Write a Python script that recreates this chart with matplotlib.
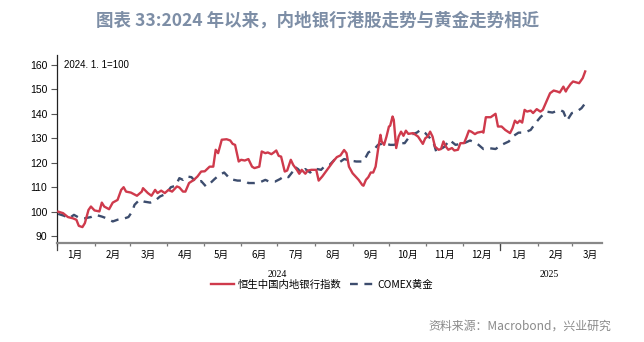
import matplotlib
matplotlib.use("Agg")
import matplotlib.pyplot as plt
import matplotlib.dates as mdates
import matplotlib.transforms as mtransforms
import pandas as pd

plt.rcParams['font.family'] = ['Noto Sans CJK SC', 'DejaVu Sans']

bank_dates = [
    "2024-01-02", "2024-01-06", "2024-01-10", "2024-01-14", "2024-01-17", "2024-01-19", "2024-01-22", "2024-01-24",
    "2024-01-27", "2024-01-29", "2024-02-01", "2024-02-05", "2024-02-07", "2024-02-09", "2024-02-13", "2024-02-16",
    "2024-02-20", "2024-02-23", "2024-02-25", "2024-02-27", "2024-03-02", "2024-03-07", "2024-03-11", "2024-03-12",
    "2024-03-16", "2024-03-19", "2024-03-22", "2024-03-24", "2024-03-27", "2024-03-30", "2024-04-02", "2024-04-05",
    "2024-04-09", "2024-04-11", "2024-04-14", "2024-04-16", "2024-04-19", "2024-04-23", "2024-04-26", "2024-04-29",
    "2024-05-02", "2024-05-06", "2024-05-09", "2024-05-11", "2024-05-13", "2024-05-16", "2024-05-20", "2024-05-23",
    "2024-05-25", "2024-05-27", "2024-05-30", "2024-06-01", "2024-06-04", "2024-06-07", "2024-06-10", "2024-06-12",
    "2024-06-16", "2024-06-18", "2024-06-21", "2024-06-23", "2024-06-26", "2024-06-28", "2024-06-30", "2024-07-02",
    "2024-07-04", "2024-07-07", "2024-07-09", "2024-07-12", "2024-07-14", "2024-07-17", "2024-07-19", "2024-07-21",
    "2024-07-24", "2024-07-26", "2024-07-29", "2024-08-02", "2024-08-04", "2024-08-07", "2024-08-11", "2024-08-13",
    "2024-08-16", "2024-08-19", "2024-08-22", "2024-08-25", "2024-08-27", "2024-08-29", "2024-09-01", "2024-09-04",
    "2024-09-06", "2024-09-09", "2024-09-10", "2024-09-12", "2024-09-14", "2024-09-16", "2024-09-18", "2024-09-20",
    "2024-09-22", "2024-09-24", "2024-09-25", "2024-09-27", "2024-09-29", "2024-10-01", "2024-10-02", "2024-10-04",
    "2024-10-05", "2024-10-07", "2024-10-09", "2024-10-11", "2024-10-13", "2024-10-15", "2024-10-17", "2024-10-21",
    "2024-10-25", "2024-10-29", "2024-10-31", "2024-11-02", "2024-11-04", "2024-11-06", "2024-11-08", "2024-11-11",
    "2024-11-13", "2024-11-15", "2024-11-17", "2024-11-19", "2024-11-22", "2024-11-24", "2024-11-27", "2024-11-29",
    "2024-12-02", "2024-12-04", "2024-12-06", "2024-12-08", "2024-12-11", "2024-12-13", "2024-12-17", "2024-12-18",
    "2024-12-20", "2024-12-24", "2024-12-28", "2024-12-30", "2025-01-02", "2025-01-05", "2025-01-09", "2025-01-11",
    "2025-01-13", "2025-01-15", "2025-01-17", "2025-01-19", "2025-01-21", "2025-01-23", "2025-01-26", "2025-01-28",
    "2025-01-31", "2025-02-03", "2025-02-05", "2025-02-08", "2025-02-11", "2025-02-14", "2025-02-17", "2025-02-19",
    "2025-02-22", "2025-02-24", "2025-02-25", "2025-02-28", "2025-03-02", "2025-03-05", "2025-03-07", "2025-03-10",
    "2025-03-12",
]
bank_values = [
    100.0, 99.4, 97.8, 97.3, 96.7, 94.2, 93.7, 95.3,
    100.7, 102.1, 100.5, 100.1, 103.7, 102.1, 101.0, 103.7,
    104.8, 108.9, 110.0, 108.2, 107.8, 106.5, 108.2, 109.6,
    107.6, 106.5, 108.9, 107.6, 108.6, 107.6, 108.9, 108.2,
    110.3, 109.9, 108.2, 108.2, 111.7, 113.0, 114.4, 116.4,
    116.5, 118.4, 118.4, 125.3, 123.9, 129.4, 129.6, 129.1,
    127.7, 127.3, 120.5, 121.2, 120.9, 121.5, 118.4, 117.8,
    118.4, 124.6, 123.9, 124.2, 123.5, 124.2, 125.0, 122.8,
    122.5, 116.4, 116.8, 121.2, 119.1, 117.1, 115.5, 117.1,
    115.5, 116.8, 117.1, 117.1, 112.7, 114.4, 117.1, 118.4,
    120.5, 122.3, 123.0, 125.2, 123.9, 118.4, 115.7, 114.1,
    113.0, 110.9, 110.6, 113.0, 114.1, 116.0, 116.0, 118.4,
    125.3, 131.4, 128.7, 127.3, 130.7, 134.8, 135.1, 138.9,
    137.5, 126.0, 130.7, 132.7, 131.0, 133.1, 131.8, 132.1,
    130.7, 127.7, 130.0, 130.7, 132.7, 130.7, 126.6, 125.3,
    125.6, 128.7, 126.6, 125.3, 126.0, 125.0, 125.3, 128.0,
    128.0, 130.4, 133.1, 132.7, 131.7, 132.3, 132.7, 132.3,
    138.6, 138.6, 140.0, 134.8, 134.8, 133.4, 132.1, 134.1,
    137.2, 136.2, 137.2, 136.4, 141.6, 140.9, 141.3, 140.3,
    141.9, 140.9, 141.6, 145.0, 148.4, 149.5, 149.1, 148.7,
    151.1, 149.1, 150.1, 152.2, 153.2, 152.8, 152.5, 154.6,
    157.3,
]

gold_dates = [
    "2024-01-02", "2024-01-07", "2024-01-11", "2024-01-15", "2024-01-20", "2024-01-24", "2024-01-29", "2024-02-02",
    "2024-02-07", "2024-02-12", "2024-02-16", "2024-02-20", "2024-02-26", "2024-02-29", "2024-03-03", "2024-03-05",
    "2024-03-09", "2024-03-13", "2024-03-18", "2024-03-22", "2024-03-26", "2024-03-31", "2024-04-04", "2024-04-08",
    "2024-04-11", "2024-04-14", "2024-04-17", "2024-04-21", "2024-04-25", "2024-04-29", "2024-05-03", "2024-05-06",
    "2024-05-10", "2024-05-14", "2024-05-18", "2024-05-21", "2024-05-23", "2024-05-29", "2024-06-01", "2024-06-05",
    "2024-06-07", "2024-06-12", "2024-06-16", "2024-06-21", "2024-06-24", "2024-06-29", "2024-07-03", "2024-07-07",
    "2024-07-10", "2024-07-13", "2024-07-15", "2024-07-18", "2024-07-21", "2024-07-24", "2024-07-28", "2024-07-31",
    "2024-08-03", "2024-08-06", "2024-08-10", "2024-08-13", "2024-08-17", "2024-08-21", "2024-08-25", "2024-08-30",
    "2024-09-04", "2024-09-10", "2024-09-14", "2024-09-19", "2024-09-22", "2024-09-27", "2024-10-02", "2024-10-05",
    "2024-10-10", "2024-10-14", "2024-10-19", "2024-10-24", "2024-10-27", "2024-10-31", "2024-11-04", "2024-11-07",
    "2024-11-09", "2024-11-12", "2024-11-16", "2024-11-20", "2024-11-25", "2024-11-29", "2024-12-03", "2024-12-07",
    "2024-12-11", "2024-12-14", "2024-12-18", "2024-12-22", "2024-12-28", "2025-01-02", "2025-01-08", "2025-01-12",
    "2025-01-16", "2025-01-21", "2025-01-26", "2025-01-30", "2025-02-03", "2025-02-08", "2025-02-13", "2025-02-19",
    "2025-02-22", "2025-02-25", "2025-03-01", "2025-03-05", "2025-03-09", "2025-03-12",
]
gold_values = [
    99.1, 98.3, 97.3, 98.7, 97.3, 97.3, 97.8, 98.7,
    98.0, 97.1, 96.0, 96.7, 97.3, 97.8, 100.0, 102.8,
    104.8, 104.1, 103.7, 104.5, 106.2, 107.3, 110.0, 110.6,
    113.7, 113.0, 114.4, 114.1, 111.9, 112.5, 110.3, 111.4,
    113.3, 115.0, 116.0, 114.4, 113.3, 112.7, 112.7, 112.3,
    111.7, 111.7, 111.9, 113.0, 112.3, 112.3, 113.3, 114.6,
    114.1, 116.0, 118.4, 117.4, 115.5, 117.4, 116.0, 117.4,
    117.4, 117.1, 119.1, 119.1, 121.2, 120.1, 121.5, 120.9,
    120.5, 120.5, 124.2, 125.6, 127.3, 128.0, 127.3, 127.3,
    128.0, 128.0, 131.4, 132.3, 133.4, 132.1, 130.0, 128.0,
    124.6, 125.3, 126.6, 129.3, 127.3, 127.7, 128.2, 129.1,
    128.2, 127.3, 125.6, 126.0, 125.6, 127.3, 128.7, 131.0,
    132.3, 132.3, 133.4, 136.2, 138.6, 140.9, 140.5, 141.6,
    140.9, 137.2, 140.3, 140.9, 142.3, 144.3,
]

y_ticks = [90, 100, 110, 120, 130, 140, 150, 160]
month_labels = ["1月", "2月", "3月", "4月", "5月", "6月", "7月", "8月", "9月", "10月", "11月", "12月", "1月", "2月", "3月"]
year_labels = ["2024", "2025"]
series_names = ["恒生中国内地银行指数", "COMEX黄金"]
title = "图表 33:2024 年以来，内地银行港股走势与黄金走势相近"
note = "2024. 1. 1=100"
source = "资料来源：Macrobond，兴业研究"

bd = pd.to_datetime(bank_dates)
gd = pd.to_datetime(gold_dates)

fig = plt.figure(figsize=(6.44, 3.42), dpi=100)
ax = fig.add_axes([0.0885, 0.2895, 0.8465, 0.5495])

red = "#cf3a4c"
navy = "#3d4d6e"
ax.plot(bd, bank_values, color=red, lw=1.7, label=series_names[0], zorder=3)
ax.plot(gd, gold_values, color=navy, lw=1.7, ls=(0, (3.3, 2.8)), label=series_names[1], zorder=2)

x0 = pd.Timestamp("2024-01-01")
x1 = pd.Timestamp("2025-03-26")
ax.set_xlim(x0, x1)
ax.set_ylim(87.2, 164)

ax.set_yticks(y_ticks)
ax.set_yticklabels([str(v) for v in y_ticks], fontsize=7.5, family=['Liberation Sans', 'DejaVu Sans'])
ax.tick_params(axis='y', direction='out', length=4, width=0.8, color="#555555", pad=3)

for s in ['top', 'right']:
    ax.spines[s].set_visible(False)
ax.spines['left'].set_color("#222222")
ax.spines['left'].set_linewidth(0.9)
ax.spines['bottom'].set_color("#888888")
ax.spines['bottom'].set_linewidth(1.6)

month_starts = pd.date_range("2024-01-01", "2025-03-01", freq="MS")
mids = month_starts + pd.Timedelta(days=15)
ax.set_xticks(list(month_starts))
ax.set_xticklabels([])
ax.tick_params(axis='x', which='major', direction='out', length=2.5, width=0.9, color="#777777")
ax.set_xticks(list(mids), minor=True)
ax.set_xticklabels(month_labels, minor=True, fontsize=7)
ax.tick_params(axis='x', which='minor', length=0, pad=5)

trans = mtransforms.blended_transform_factory(ax.transData, ax.transAxes)
for yd in [pd.Timestamp("2024-01-01"), pd.Timestamp("2025-01-01")]:
    ax.plot([yd, yd], [0, -0.035], transform=trans, color="#444444", lw=0.9, clip_on=False)

ax.text(pd.Timestamp("2024-07-01"), -0.145, year_labels[0], transform=trans, ha='center', va='top',
        fontsize=7, family=['Liberation Serif', 'DejaVu Serif'])
ax.text(pd.Timestamp("2025-02-10"), -0.145, year_labels[1], transform=trans, ha='center', va='top',
        fontsize=7, family=['Liberation Serif', 'DejaVu Serif'])

ax.text(0.012, 0.975, note, transform=ax.transAxes, ha='left', va='top', fontsize=7,
        family=['Liberation Sans', 'DejaVu Sans'])

fig.text(0.493, 0.94, title, ha='center', va='center', fontsize=12.6, fontweight='bold', color="#7d8ea6")

leg = fig.legend(loc='center', bbox_to_anchor=(0.5, 0.168), ncol=2, frameon=False, fontsize=7.5,
                 handlelength=2.2, columnspacing=0.8, handletextpad=0.4)

fig.text(0.95, 0.045, source, ha='right', va='center', fontsize=8.6, color="#8a8a8a")

fig.savefig("out.png", dpi=100)
